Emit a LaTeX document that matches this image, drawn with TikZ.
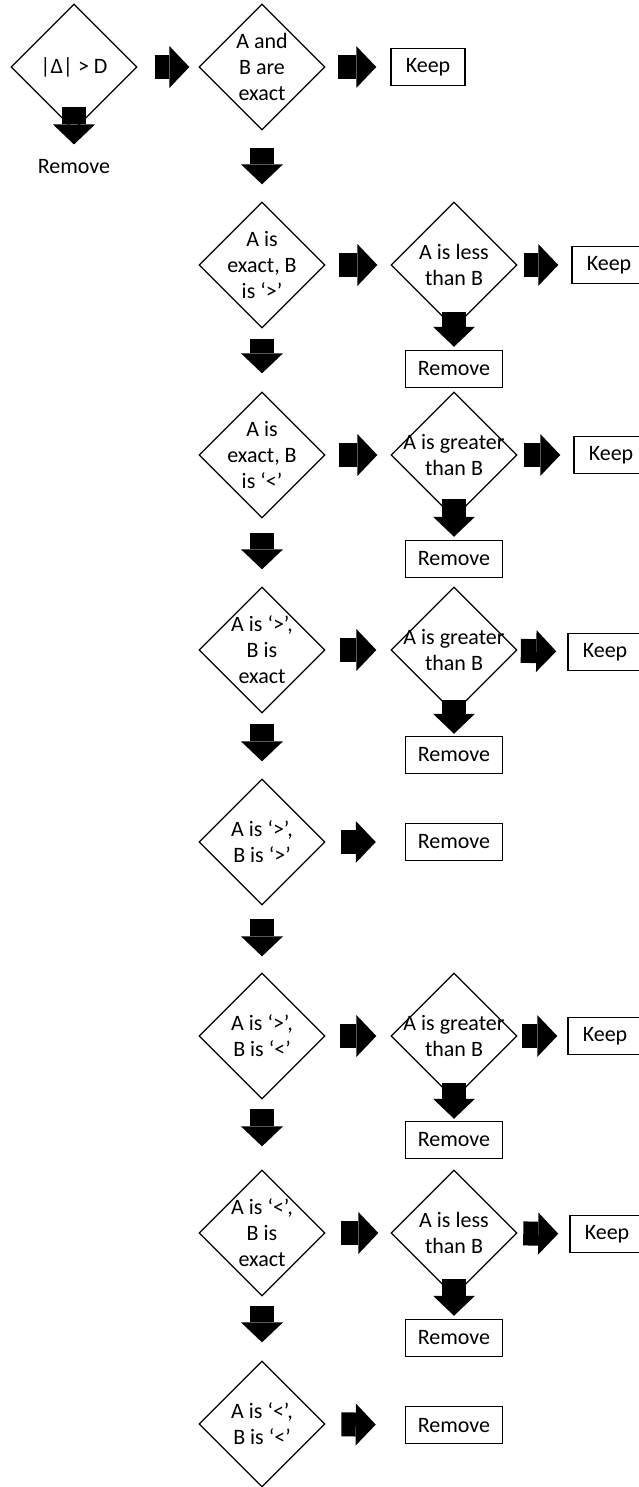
\documentclass[tikz,border=0pt]{standalone}
\usepackage{fontspec}
\setmainfont{Carlito}
\usetikzlibrary{shapes.geometric,arrows.meta}

\begin{document}
\begin{tikzpicture}[x=0.5pt, y=-0.5pt, font=\fontsize{11}{13}\selectfont]
    \tikzset{dia/.style={draw, diamond, line width=0.65pt, minimum width=63pt, minimum height=63pt, inner sep=0pt},
             txt/.style={align=center, inner sep=0pt},
             box/.style={draw, line width=0.75pt, minimum height=18.5pt, inner sep=0pt},
             keep/.style={box, minimum width=37pt},
             remove/.style={box, minimum width=48.5pt},
             fat/.style={line width=12pt, -{Triangle[length=10pt, width=21pt, line width=0pt]}}}
    \useasboundingbox (0,0) rectangle (638,1487);
    % conditions, left column
    \node[dia] (c0) at (74,67) {};   \node[txt] (c0t) at (c0) {|Δ| > D};
    \node[dia] (c1) at (262,67) {};  \node[txt] (c1t) at (c1) {A and\\B are\\exact};
    \node[dia] (c2) at (262,265) {}; \node[txt] (c2t) at (c2) {A is\\exact, B\\is ‘>’};
    \node[dia] (c3) at (262,455) {}; \node[txt] (c3t) at (c3) {A is\\exact, B\\is ‘<’};
    \node[dia] (c4) at (262,650) {}; \node[txt] (c4t) at (c4) {A is ‘>’,\\B is\\exact};
    \node[dia] (c5) at (262,842) {}; \node[txt] (c5t) at (c5) {A is ‘>’,\\B is ‘>’};
    \node[dia] (c6) at (262,1036) {}; \node[txt] (c6t) at (c6) {A is ‘>’,\\B is ‘<’};
    \node[dia] (c7) at (262,1233) {}; \node[txt] (c7t) at (c7) {A is ‘<’,\\B is\\exact};
    \node[dia] (c8) at (262,1424) {}; \node[txt] (c8t) at (c8) {A is ‘<’,\\B is ‘<’};
    % comparisons
    \node[dia] (s2) at (454,265) {};  \node[txt] (s2t) at (s2) {A is less\\than B};
    \node[dia] (s3) at (454,455) {};  \node[txt] (s3t) at (s3) {A is greater\\than B};
    \node[dia] (s4) at (454,650) {};  \node[txt] (s4t) at (s4) {A is greater\\than B};
    \node[dia] (s6) at (454,1036) {}; \node[txt] (s6t) at (s6) {A is greater\\than B};
    \node[dia] (s7) at (454,1233) {}; \node[txt] (s7t) at (s7) {A is less\\than B};
    % outcomes
    \node[txt] (r0) at (74,167) {Remove};
    \node[keep] (k1) at (428,67) {Keep};
    \node[keep] (k2) at (609,265) {Keep};
    \node[keep] (k3) at (611,455) {Keep};
    \node[keep] (k4) at (605,652) {Keep};
    \node[keep] (k6) at (605,1036) {Keep};
    \node[keep] (k7) at (607,1234) {Keep};
    \node[remove] (r2) at (454,369) {Remove};
    \node[remove] (r3) at (454,559) {Remove};
    \node[remove] (r4) at (454,755) {Remove};
    \node[remove] (r5) at (454,842) {Remove};
    \node[remove] (r6) at (454,1140) {Remove};
    \node[remove] (r7) at (454,1338) {Remove};
    \node[remove] (r8) at (454,1425) {Remove};
    % block arrows
    \draw[fat, shorten <=8.5pt, shorten >=4.5pt] (c0) -- (c1);
    \draw[fat, shorten <=20pt, shorten >=7.5pt] (c0.center) -- (r0);
    \draw[fat, shorten <=6pt, shorten >=7pt] (c1) -- (k1);
    \draw[fat, shorten <=8.5pt, shorten >=8.5pt] (c1) -- (c2);
    \draw[fat, shorten <=5pt, shorten >=9pt] (c2) -- (c3);
    \draw[fat, shorten <=7pt, shorten >=8.5pt] (c3) -- (c4);
    \draw[fat, shorten <=5pt, shorten >=8.5pt] (c4) -- (c5);
    \draw[fat, shorten <=6.5pt, shorten >=8pt] (c5) -- (c6);
    \draw[fat, shorten <=4.5pt, shorten >=11.5pt] (c6) -- (c7);
    \draw[fat, shorten <=4.5pt, shorten >=9pt] (c7) -- (c8);
    \draw[fat, shorten <=6.5pt, shorten >=6.5pt] (c2) -- (s2);
    \draw[fat, shorten <=6.5pt, shorten >=6.5pt] (c3) -- (s3);
    \draw[fat, shorten <=7pt, shorten >=7pt] (c4) -- (s4);
    \draw[fat, shorten <=7.5pt, shorten >=14.5pt] (c5) -- (r5);
    \draw[fat, shorten <=7pt, shorten >=7pt] (c6) -- (s6);
    \draw[fat, shorten <=7.5pt, shorten >=6pt] (c7) -- (s7);
    \draw[fat, shorten <=8pt, shorten >=14.5pt] (c8) -- (r8);
    \draw[fat, shorten <=3pt, shorten >=6.5pt] (s2) -- (k2);
    \draw[fat, shorten <=3pt, shorten >=6.5pt] (s3) -- (k3);
    \draw[fat, shorten <=2pt, shorten >=5.5pt] (s4) -- (k4);
    \draw[fat, shorten <=2pt, shorten >=5pt] (s6) -- (k6);
    \draw[fat, shorten <=3pt, shorten >=5.5pt] (s7) -- (k7);
    \draw[fat, shorten <=23.5pt, shorten >=1.5pt] (s2.center) -- (r2);
    \draw[fat, shorten <=22pt, shorten >=1.5pt] (s3.center) -- (r3);
    \draw[fat, shorten <=25pt, shorten >=1pt] (s4.center) -- (r4);
    \draw[fat, shorten <=23.5pt, shorten >=1pt] (s6.center) -- (r6);
    \draw[fat, shorten <=23pt, shorten >=1.5pt] (s7.center) -- (r7);
\end{tikzpicture}
\end{document}
